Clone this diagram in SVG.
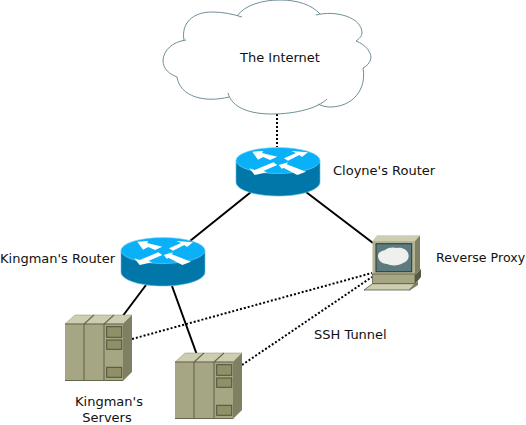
<svg xmlns="http://www.w3.org/2000/svg" width="526" height="425" viewBox="0 0 526 425">
<style>
text{font-family:"DejaVu Sans",sans-serif;font-size:13px;fill:#111}
.solid{stroke:#000;stroke-width:2;fill:none}
.dot{stroke:#000;stroke-width:2;fill:none;stroke-dasharray:2 2}
.rt{fill:#0ab0f8;stroke:#7fd4f4;stroke-width:.6}
.rb{fill:#0077a8;stroke:#5fc0e0;stroke-width:.6}
.ar{fill:#fff}
.s1{fill:#a6a684}
.s2{fill:#cdcdb2;stroke:#8a8c6c;stroke-width:.5}
.s3{fill:#7f8062}
.s4{fill:none;stroke:#5c5f45;stroke-width:1.1}
.s5{fill:#8f9068;stroke:#4f5239;stroke-width:1}
.cl{fill:none;stroke:#6f8f96;stroke-width:1}
</style>
<defs>
<g id="router">
<path class="rb" d="M0 13.5V35C0 43 19 49 42 49S84 43 84 35V13.5Z"/>
<ellipse class="rt" cx="42" cy="13.5" rx="42" ry="13"/>
<path class="ar" d="M16.3 4.700 27.3 4 26 6 41.300 9.700 34 13 27.300 10 22 12.700ZM48 11.300 60 6 55.300 4 72 5.300 66 10 63.300 8 52 13.700ZM37.300 15.300 41.300 18 27.300 24 31.300 25.300 18.700 28 13.300 21.300 18.700 23ZM42.700 18 52 15.300 50.700 17.300 70 24.700 61.300 28 47.300 20.700 46 22Z"/>
</g>
<g id="server">
<path class="s2" d="M0 9 10 0H67L58 9Z"/>
<path class="s3" d="M58 9 67 0V57L58 66Z"/>
<rect class="s1" x="0" y="9" width="58" height="57"/>
<path class="s4" d="M19 9V66M39 9V66M19 9 29 0M39 9 49 0M0 9H58M0 65.500H58" stroke-opacity=".9"/>
<rect class="s5" x="41.700" y="11.700" width="15" height="10.600"/>
<rect class="s5" x="41.700" y="25" width="15" height="9.300"/>
<rect class="s5" x="41.700" y="52.300" width="15" height="10"/>
</g>
</defs>
<g id="connectors">
<path class="dot" d="M277 114V147"/>
<path class="solid" d="M251 192 190 241M306 192 373 243M146 285 122 317M172 286 197 355"/>
<path class="dot" d="M132 339 372 273M242 365 372 277"/>
</g>
<g id="internet">
<path fill="#fff" d="M163 60C164 50 172 42 186 40C181 24 192 12 212 12C220 12 230 13 237 16C245 5 262 0 280 0C298 0 312 5 320 14C335 10 362 17 362 33C362 36 359 39 356 41C366 45 371 52 371 58C370 63 367 66 363 68C367 90 352 107 330 107C326 107 322 106 318 104C306 111 290 114 272 114C250 114 232 108 229 97C205 103 180 97 177 77C170 74 163 70 163 60Z"/>
<path class="cl" d="M163 60C164 50 172 42 186 40M184 40C181 24 192 12 212 12C222 12 233 14 242 17M237 16C245 5 262 0 280 0C298 0 312 5 320 14M316 15C335 10 362 17 362 33C362 36 359 39 356 41C366 45 371 52 371 58C370 63 367 66 363 68C367 90 352 107 330 107C326 107 322 106 318 104M327 99C318 108 296 114 272 114C250 114 232 108 228 93M229 97C205 103 180 97 177 77C170 74 163 70 163 60"/>
<text x="240" y="62">The Internet</text>
</g>
<g id="cloyne-router"><use href="#router" x="236" y="147"/><text x="333" y="175">Cloyne's Router</text></g>
<g id="kingman-router"><use href="#router" x="121" y="237"/><text x="0" y="263">Kingman's Router</text></g>
<g id="reverse-proxy">
<path d="M372.500 241 377 235.300H420L415 241Z" fill="#cdcdb2"/>
<path d="M415 241 420 235.300V270L415 275Z" fill="#7f8062"/>
<rect x="372.500" y="241" width="42.500" height="33" fill="#b3b395"/>
<rect x="376" y="243.700" width="35.700" height="28" fill="#5b7b80" stroke="#33362a" stroke-width="1"/>
<path d="M378 256C378 252 382 251 385 250 388 247 394 247 397 248 402 247 407 250 408 253 410 258 407 262 403 263 399 266 391 266 387 264 383 264 378 261 378 256Z" fill="#eef0ee"/>
<rect x="372.500" y="274" width="42.500" height="9.500" fill="#a6a684" stroke="#4f5239" stroke-width=".7"/>
<path d="M415 275 421 269V277L415 284Z" fill="#55583f"/>
<path d="M372.500 283.700H415L409 290H364Z" fill="#cdcdb2" stroke="#55583f" stroke-width=".8"/>
<path d="M415 283.700 418 281V285L409 291V290Z" fill="#7f8062"/>
<text x="436" y="262" style="font-size:12.6px">Reverse Proxy</text>
</g>
<g id="server-1"><use href="#server" x="65" y="315"/></g>
<g id="server-2"><use href="#server" x="175" y="353"/></g>
<g id="labels">
<text x="314" y="339">SSH Tunnel</text>
<text x="109" y="406" text-anchor="middle">Kingman's</text>
<text x="107" y="422" text-anchor="middle">Servers</text>
</g>
</svg>
